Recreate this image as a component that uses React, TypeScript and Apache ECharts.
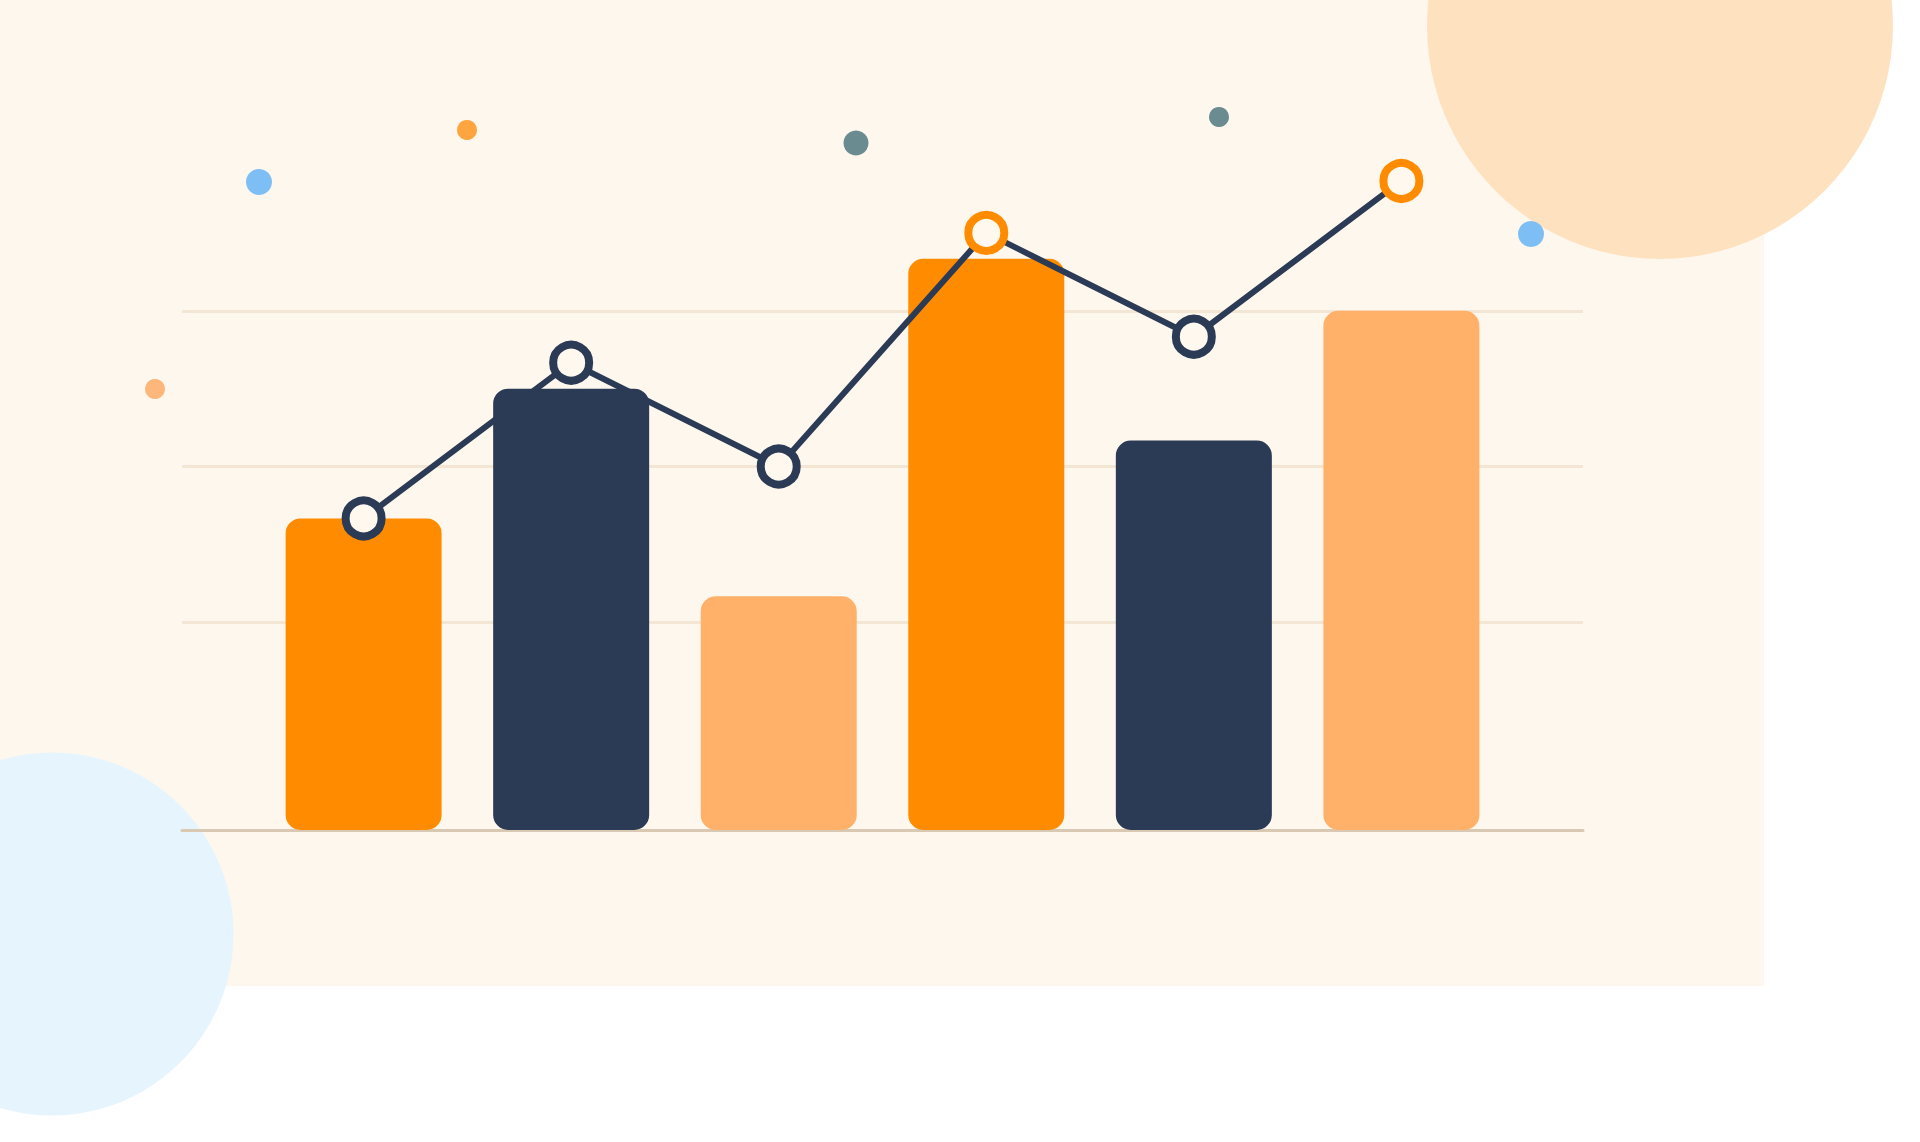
import { useEffect, useRef } from "react"
import * as echarts from "echarts"

// bar heights and line points, same units as the y axis (0 at baseline)
const positions = [0, 1, 2, 3, 4, 5]
const barValues = [60, 85, 45, 110, 75, 100]
const lineValues = [60, 90, 70, 115, 95, 125]
const gridLevels = [40, 70, 100]

const ORANGE = "#FF8C00"
const NAVY = "#2B3A55"
const PEACH = "#FFB169"

const barColors = [ORANGE, NAVY, PEACH, ORANGE, NAVY, PEACH]
const markerBorders = [NAVY, NAVY, NAVY, ORANGE, NAVY, ORANGE]

// confetti dots around the chart (pixel positions on the page)
const dotX = [259, 467, 856, 1219, 1531, 155]
const dotY = [182, 130, 143, 117, 234, 389]
const dotR = [13, 10, 12.5, 10, 13, 10]
const dotColors = ["#7DBFF5", "#FEA540", "#6A8B8F", "#6A8B8F", "#7DBFF5", "#FDB77A"]

export default function App() {
  const chartRef = useRef<HTMLDivElement>(null)

  useEffect(() => {
    document.body.style.margin = "0"
    if (!chartRef.current) return
    const chart = echarts.init(chartRef.current, null, { renderer: "svg" })

    const dots = dotX.map((x, i) => ({
      type: "circle",
      z: -1,
      silent: true,
      shape: { cx: x, cy: dotY[i], r: dotR[i] },
      style: { fill: dotColors[i] },
    }))

    const option: any = {
      animation: false,
      backgroundColor: "#FFFFFF",
      graphic: [
        {
          type: "rect",
          z: -3,
          silent: true,
          shape: { x: 0, y: 0, width: 1764, height: 986 },
          style: { fill: "#FEF7EE" },
        },
        {
          type: "circle",
          z: -2,
          silent: true,
          shape: { cx: 1660, cy: 26, r: 233 },
          style: { fill: "#FEE2C0" },
        },
        {
          type: "circle",
          z: -2,
          silent: true,
          shape: { cx: 52, cy: 934, r: 181.5 },
          style: { fill: "#E6F4FD" },
        },
        ...dots,
      ],
      grid: {
        left: 182,
        top: 155,
        width: 1401,
        height: 675,
      },
      xAxis: {
        type: "value",
        min: -0.875,
        max: 5.875,
        axisLine: {
          show: true,
          lineStyle: { color: "#D9C8B2", width: 3, cap: "round" },
        },
        axisTick: { show: false },
        axisLabel: { show: false },
        splitLine: { show: false },
      },
      yAxis: {
        type: "value",
        min: 0,
        max: 130,
        axisLine: { show: false },
        axisTick: { show: false },
        axisLabel: { show: false },
        splitLine: { show: false },
      },
      series: [
        {
          type: "bar",
          barWidth: 156,
          data: positions.map((x, i) => ({
            value: [x, barValues[i]],
            itemStyle: { color: barColors[i] },
          })),
          itemStyle: { borderRadius: 15 },
          markLine: {
            silent: true,
            z: 1,
            symbol: ["none", "none"],
            label: { show: false },
            lineStyle: { color: "#F3E6D5", width: 3, type: "solid" },
            data: gridLevels.map((v) => ({ yAxis: v })),
          },
        },
        {
          type: "line",
          data: positions.map((x, i) => ({
            value: [x, lineValues[i]],
            itemStyle: { borderColor: markerBorders[i] },
          })),
          symbol: "circle",
          symbolSize: 36,
          showAllSymbol: true,
          lineStyle: { color: NAVY, width: 6 },
          itemStyle: { color: "#FFF8EF", borderColor: NAVY, borderWidth: 8 },
        },
      ],
    }

    chart.setOption(option)
    return () => chart.dispose()
  }, [])

  return <div ref={chartRef} style={{ width: "1920px", height: "1142px" }} />
}
